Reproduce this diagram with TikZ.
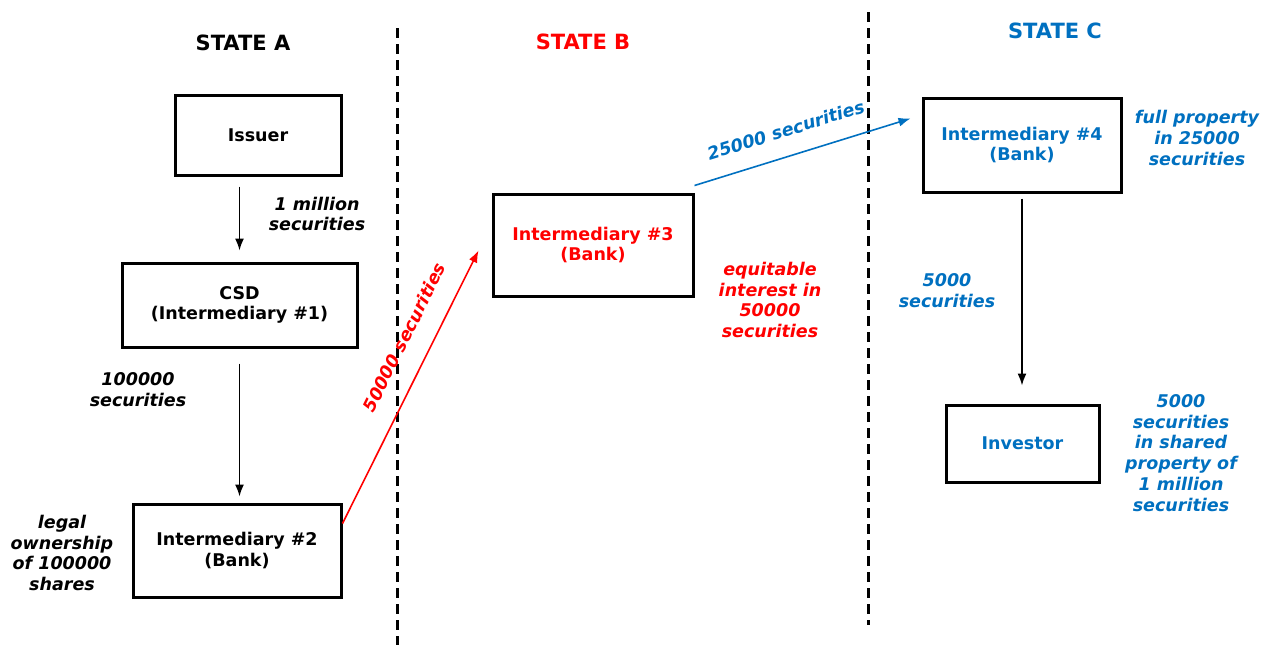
\documentclass[tikz,border=0pt]{standalone}
\usepackage{fontspec}
\setmainfont{DejaVu Sans}
\usetikzlibrary{arrows.meta,calc}
\definecolor{myred}{RGB}{255,0,0}
\definecolor{myblue}{RGB}{0,112,192}
\begin{document}
\begin{tikzpicture}[x=1pt,y=-1pt,
  box/.style={draw=black,line width=3pt,minimum width=#1,inner sep=0pt,align=center,font=\fontsize{17.5}{20.5}\selectfont\bfseries},
  lbl/.style={align=center,font=\fontsize{17.5}{20.8}\selectfont\bfseries\itshape},
  state/.style={font=\fontsize{21}{24}\selectfont\bfseries},
  sep/.style={line width=3pt,dash pattern=on 10pt off 6pt},
  arr/.style={line width=1.6pt,-{Latex[length=12pt,width=9pt]}}]
\useasboundingbox (0,0) rectangle (1271,646);
% separators
\draw[sep] (397,28) -- (397,645);
\draw[sep] (868,12) -- (868,625);
% titles
\node[state] (sa) at (243,43) {STATE A};
\node[state,text=myred] (sb) at (583,42) {STATE B};
\node[state,text=myblue] (sc) at (1055,31) {STATE C};
% boxes
\node[box=166pt,minimum height=80pt] (iss) at (258,135) {Issuer};
\node[box=235pt,minimum height=84pt] (csd) at (239.5,305) {CSD\\(Intermediary \#1)};
\node[box=208pt,minimum height=93pt] (i2) at (237,550.5) {Intermediary \#2\\(Bank)};
\node[box=200pt,minimum height=102pt,text=myred] (i3) at (593,245) {Intermediary \#3\\(Bank)};
\node[box=198pt,minimum height=94pt,text=myblue] (i4) at (1022,145) {Intermediary \#4\\(Bank)};
\node[box=153pt,minimum height=77pt,text=myblue] (inv) at (1022.5,443.5) {Investor};
% arrows
\draw[arr,shorten <=10pt,shorten >=11pt] (csd.north |- iss.south) -- (csd.north);
\draw[arr,shorten <=15pt,shorten >=6pt] (csd.south) -- (csd.south |- i2.north);
\draw[arr,shorten <=5pt,shorten >=18pt] (i4.south) -- (i4.south |- inv.north);
\coordinate (r0) at ([yshift=-21pt]i2.north east);
\coordinate (r1) at ([xshift=-13pt,yshift=-58pt]i3.north west);
\draw[arr,myred] (r0) -- (r1) node[pos=0.637,sloped,above=17pt,lbl,text=myred] {50000 securities};
\coordinate (b0) at ([yshift=7pt]i3.north east);
\coordinate (b1) at ([xshift=-11pt,yshift=-22pt]i4.north west);
\draw[arr,myblue] (b0) -- (b1) node[pos=0.458,sloped,above=15pt,lbl,text=myblue] {25000 securities};
% labels
\node[lbl] (l1) at (317,214) {1 million\\securities};
\node[lbl] (l2) at (138,390) {100000\\securities};
\node[lbl] (l3) at (62,553) {legal\\ownership\\of 100000\\shares};
\node[lbl,text=myred] (l4) at (770,300) {equitable\\interest in\\50000\\securities};
\node[lbl,text=myblue] (l5) at (1197,138) {full property\\in 25000\\securities};
\node[lbl,text=myblue] (l6) at (947,291) {5000\\securities};
\node[lbl,text=myblue] (l7) at (1181,453) {5000\\securities\\in shared\\property of\\1 million\\securities};
\end{tikzpicture}
\end{document}
